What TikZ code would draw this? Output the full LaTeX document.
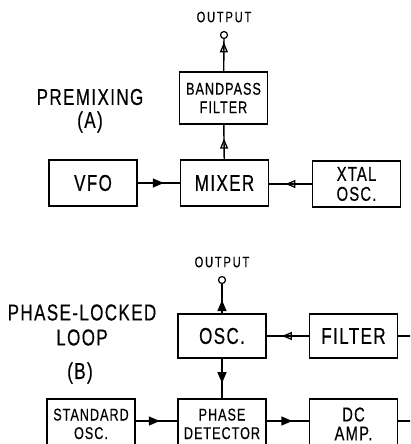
\documentclass[tikz,border=0pt]{standalone}
\usepackage{fontspec}
\setmainfont[FakeStretch=0.74,LetterSpace=6,FakeBold=0.4]{Liberation Sans}
\newfontfamily\outfont[FakeStretch=0.74,LetterSpace=12,FakeBold=0.4]{Liberation Sans}
\usetikzlibrary{positioning,calc,arrows.meta,decorations.markings}

\begin{document}
\begin{tikzpicture}[x=1pt,y=-1pt,
  blk/.style={draw,line width=1.8pt,minimum width=88pt,minimum height=46pt,
    align=center,inner sep=0pt,font=\fontsize{23}{25}\selectfont},
  blk2/.style={blk,font=\fontsize{17}{18.5}\selectfont},
  ttl/.style={font=\fontsize{23}{25}\selectfont,align=center},
  outlbl/.style={font=\outfont\fontsize{15}{16}\selectfont},
  term/.style={circle,draw,line width=1.2pt,inner sep=0pt,minimum size=7pt},
  wire/.style={line width=1.4pt},
  fwd/.style={wire,postaction={decorate},decoration={markings,
    mark=at position #1 with {\arrow{Triangle[length=11pt,width=9pt]}}}},
  fwdo/.style={wire,postaction={decorate},decoration={markings,
    mark=at position #1 with {\arrow{Triangle[open,length=10pt,width=8pt,line width=1.3pt]}}}}]
  \clip (0,0) rectangle (410,444);

  % (A) premixing
  \node[ttl] (tA) at (90,97) {PREMIXING};
  \node[ttl] (lA) at (90,122) {(A)};
  \node[outlbl] (oA) at (224,17) {OUTPUT};
  \node[term] (ta) at (224,35) {};
  \node[blk2,minimum height=52pt] (bpf) at (223.5,98) {BANDPASS\\FILTER};
  \node[blk] (mix) at (224.5,183) {MIXER};
  \node[blk] (vfo) at (93,183) {VFO};
  \node[blk2,font=\fontsize{20}{20}\selectfont] (xtal) at (356.5,184) {XTAL\\OSC.};
  \draw[fwd=0.62] (vfo) -- (mix);
  \draw[fwdo=0.62] (xtal.west) -- (xtal.west -| mix.east);
  \draw[fwdo=0.6] (mix) -- (bpf);
  \draw[fwdo=0.9] (bpf) -- (ta);

  % (B) phase-locked loop
  \node[ttl] (tB) at (82,325) {PHASE-LOCKED\\LOOP};
  \node[ttl] (lB) at (80,373) {(B)};
  \node[outlbl] (oB) at (222,262) {OUTPUT};
  \node[term] (tb) at (222,280) {};
  \node[blk,minimum height=44pt] (osc) at (222,336) {OSC.};
  \node[blk,minimum height=44pt] (filt) at (353.5,336) {FILTER};
  \node[blk2,anchor=north,minimum height=50pt] (pd) at (222,398) {PHASE\\DETECTOR};
  \node[blk2,anchor=north,minimum height=50pt] (std) at (91,398) {STANDARD\\OSC.};
  \node[blk2,anchor=north,minimum height=50pt,font=\fontsize{20}{19}\selectfont] (dc) at (353.5,398) {DC\\AMP.};
  \coordinate (fr) at (412,336);
  \coordinate (dr) at (412,421);
  \draw[fwd=0.45] (osc) -- (tb);
  \draw[fwdo=0.64] (filt) -- (osc);
  \draw[fwd=0.62] (osc) -- (pd);
  \draw[fwd=0.58] (std.east |- dr) -- (pd.west |- dr);
  \draw[fwd=0.61] (pd.east |- dr) -- (dc.west |- dr);
  \draw[wire] (filt) -- (fr);
  \draw[wire] (dc.east |- dr) -- (dr);
\end{tikzpicture}
\end{document}
